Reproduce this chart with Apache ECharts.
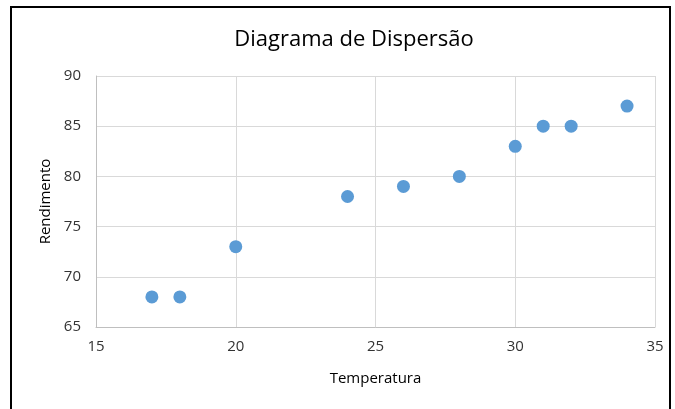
<!DOCTYPE html>
<html>
<head>
<meta charset="utf-8">
<script src="https://cdn.jsdelivr.net/npm/echarts@6/dist/echarts.min.js"></script>
<style>
  html, body { margin: 0; padding: 0; background: #fff; }
  #frame { position: absolute; left: 10px; top: 6px; width: 661px; height: 420px;
           border: 2px solid #000; border-bottom: none; box-sizing: border-box; }
  #chart { position: absolute; left: 0; top: 0; width: 675px; height: 409px; }
</style>
</head>
<body>
<div id="frame"></div>
<div id="chart"></div>
<script>
// Temperatura x Rendimento
const temperatura = [17, 18, 20, 24, 26, 28, 30, 31, 32, 34];
const rendimento = [68, 68, 73, 78, 79, 80, 83, 85, 85, 87];

const pontos = temperatura.map((t, i) => [t, rendimento[i]]);

const chart = echarts.init(document.getElementById("chart"));
const fonte = "'Open Sans', sans-serif";
chart.setOption({
    animation: false,
    title: {
        text: "Diagrama de Dispersão",
        left: 349,
        top: 24,
        textAlign: "center",
        textStyle: { fontFamily: fonte, fontSize: 22, fontWeight: "normal", color: "#000" },
    },
    grid: { left: 96, right: 20, top: 76, bottom: 82 },
    xAxis: {
        type: "value",
        min: 15,
        max: 35,
        interval: 5,
        name: "Temperatura",
        nameLocation: "middle",
        nameGap: 44,
        nameTextStyle: { fontFamily: fonte, fontSize: 15, color: "#000" },
        axisLine: { lineStyle: { color: "#bfbfbf" } },
        axisTick: { show: false },
        axisLabel: { fontFamily: fonte, fontSize: 15, color: "#333", margin: 12 },
        splitLine: { lineStyle: { color: "#d9d9d9" } },
    },
    yAxis: {
        type: "value",
        min: 65,
        max: 90,
        interval: 5,
        name: "Rendimento",
        nameLocation: "middle",
        nameGap: 40,
        nameTextStyle: { fontFamily: fonte, fontSize: 15, color: "#000" },
        axisLine: { show: true, lineStyle: { color: "#bfbfbf" } },
        axisTick: { show: false },
        axisLabel: { fontFamily: fonte, fontSize: 15, color: "#333", margin: 15 },
        splitLine: { lineStyle: { color: "#d9d9d9" } },
    },
    series: [{
        type: "scatter",
        data: pontos,
        symbolSize: 13,
        itemStyle: { color: "#5b9bd5", opacity: 1 },
    }],
});
</script>
</body>
</html>
